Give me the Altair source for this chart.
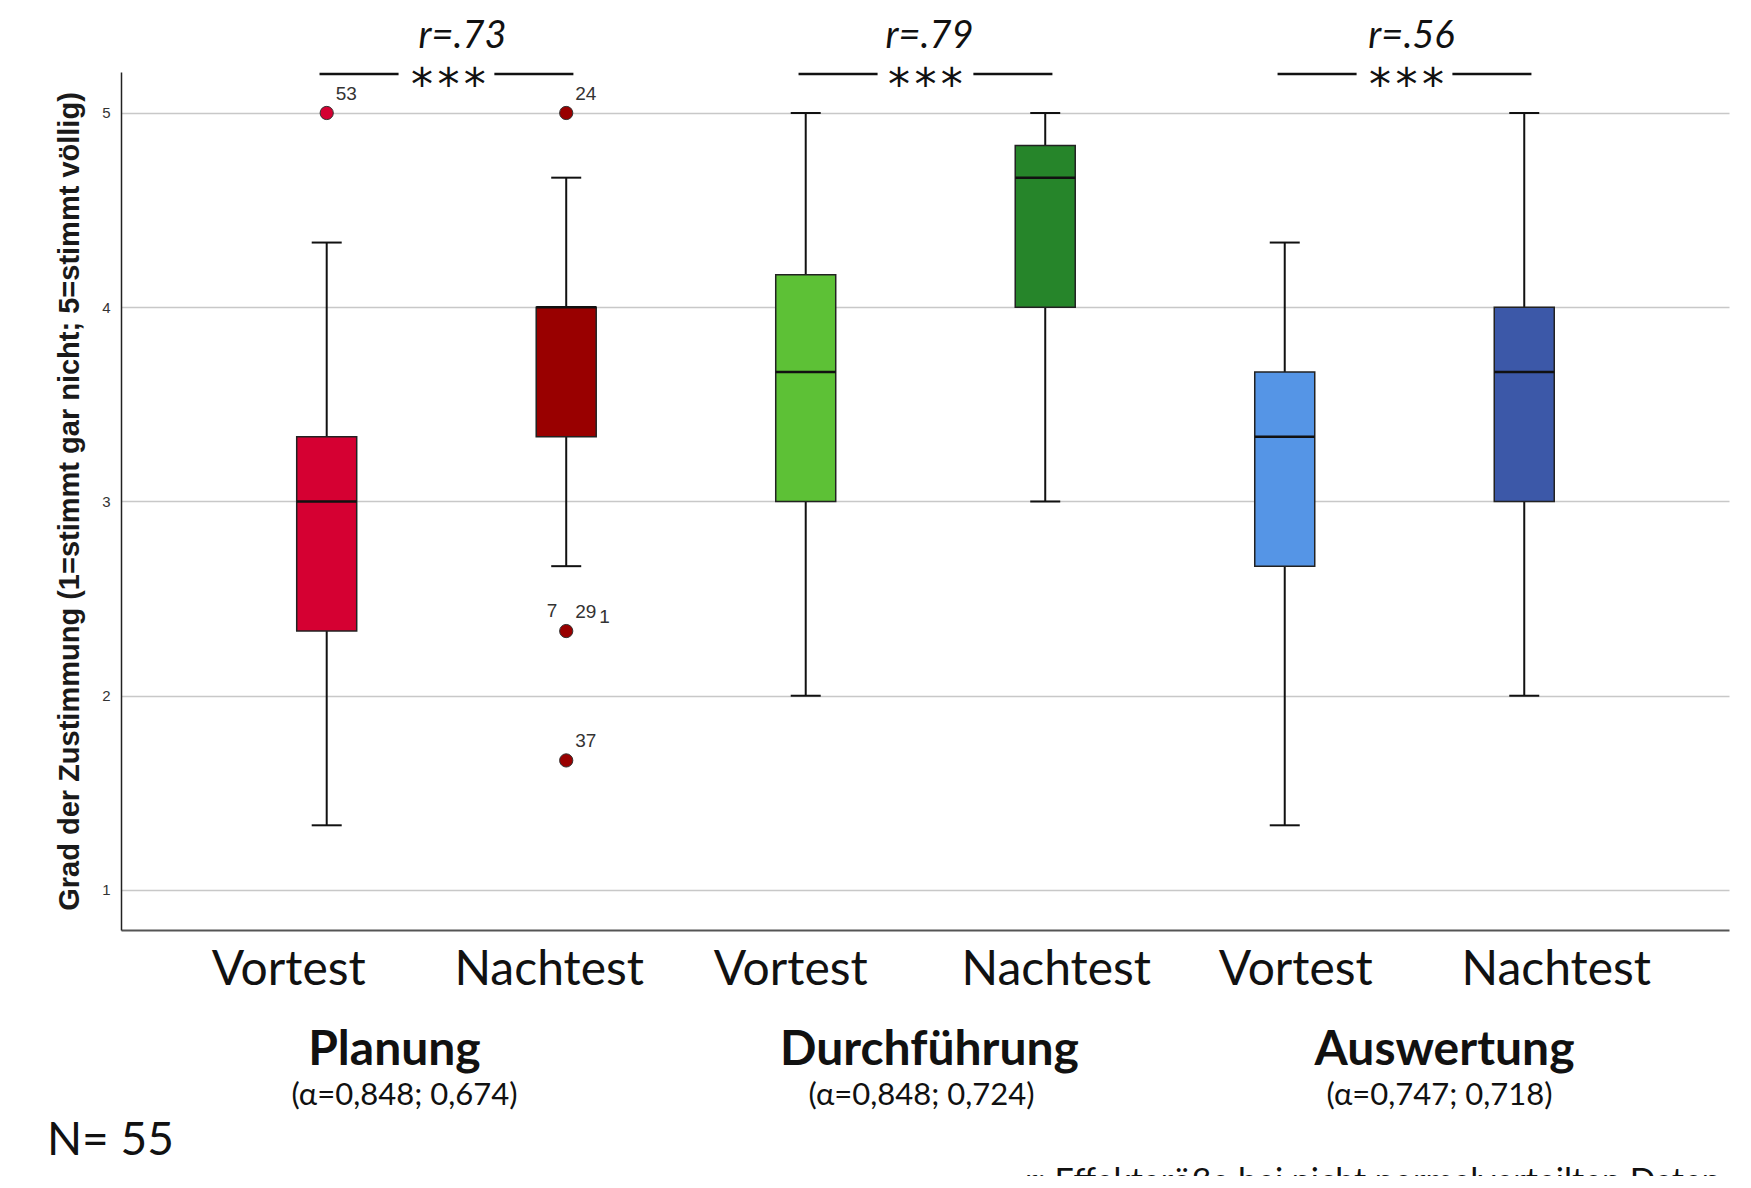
import altair as alt
import pandas as pd

# ---------------- data ----------------
groups = ["Planung", "Durchführung", "Auswertung"]
alphas = ["(α=0,848; 0,674)", "(α=0,848; 0,724)", "(α=0,747; 0,718)"]
effects = ["r=.73", "r=.79", "r=.56"]
stars = ["*\u200a*\u200a*", "*\u200a*\u200a*", "*\u200a*\u200a*"]
tests = ["Vortest", "Nachtest"]
colors = ["#D50032", "#990000", "#5DC136", "#26852A", "#5595E6", "#3C58A8"]

whisker_low = [1.333, 2.667, 2.0, 3.0, 1.333, 2.0]
q1 = [2.333, 3.333, 3.0, 4.0, 2.667, 3.0]
median = [3.0, 4.0, 3.667, 4.667, 3.333, 3.667]
q3 = [3.333, 4.0, 4.167, 4.833, 3.667, 4.0]
whisker_high = [4.333, 4.667, 5.0, 5.0, 4.333, 5.0]

outlier_box = [0, 1, 1, 1]
outlier_value = [5.0, 5.0, 2.333, 1.667]
outlier_label = ["53", "24", "29", "37"]
outlier_label_left = ["", "", "7", ""]
outlier_label_sub = ["", "", "1", ""]

y_ticks = [1, 2, 3, 4, 5]
y_title = "Grad der Zustimmung (1=stimmt gar nicht; 5=stimmt völlig)"
n_text = "N= 55"
footnote = "r: Effektgröße bei nicht normalverteilten Daten"

# ---------------- layout / style (pixel nudges of the slide's hand-placed texts) ----------------
test_dx = [-38, -17, -15, 11, 11, 32]
group_dx = [-52, 4, 40]
alpha_dx = [-42, -4, 35]
effect_dx = [16, 4, 7]
star_dx = [2, 0, 2]

# ---------------- tables ----------------
keys = [f"{g} {t}" for g in groups for t in tests]
boxes = pd.DataFrame({
    "key": keys,
    "test": [t for g in groups for t in tests],
    "pos": list(range(1, len(keys) + 1)),
    "low": whisker_low, "q1": q1, "median": median, "q3": q3, "high": whisker_high,
})
outl = pd.DataFrame({
    "key": [keys[i] for i in outlier_box],
    "pos": [i + 1 for i in outlier_box],
    "value": outlier_value,
    "label": outlier_label,
    "left": outlier_label_left,
    "sub": outlier_label_sub,
})
grp = pd.DataFrame({
    "group": groups, "alpha": alphas, "effect": effects, "stars": stars,
    "mid": [2 * i + 1.5 for i in range(len(groups))],
})
seg_frac = 0.30
seg_ext = 0.03
n_g = len(groups)
lines = pd.DataFrame({
    "x1": [2 * i + 1 - seg_ext for i in range(n_g)] + [2 * i + 2 - seg_frac for i in range(n_g)],
    "x2": [2 * i + 1 + seg_frac for i in range(n_g)] + [2 * i + 2 + seg_ext for i in range(n_g)],
})

FONT = "Lato"
INK = "#111111"
xscale = alt.Scale(domain=[0.162, 6.834], nice=False, zero=False)
x_axis = alt.Axis(labels=False, ticks=False, grid=False, title=None,
                  domainColor="#555555", domainWidth=2)
yscale = alt.Scale(domain=[0.794, 5.211], nice=False, zero=False)
y_axis = alt.Axis(values=y_ticks, format="d", grid=True, gridColor="#C8C8C8", gridWidth=1.5,
                  ticks=False, labelFontSize=15, labelColor="#333333",
                  labelFont="Liberation Sans", labelPadding=11,
                  domainColor="#222222", domainWidth=1.5, title=y_title,
                  titleFont="Liberation Sans", titleFontWeight="bold",
                  titleFontSize=29, titlePadding=17, titleColor="#1a1a1a")

X = alt.X("pos:Q", scale=xscale, axis=x_axis)
XM = alt.X("mid:Q", scale=xscale, axis=x_axis)
col = alt.Color("key:N", scale=alt.Scale(domain=keys, range=colors), legend=None)

base = alt.Chart(boxes)

whisk = base.mark_rule(color=INK, strokeWidth=2).encode(
    x=X, y=alt.Y("low:Q", scale=yscale, axis=y_axis), y2="high:Q")
cap_lo = base.mark_tick(orient="horizontal", size=30, thickness=2, color=INK,
                        opacity=1).encode(x=X, y=alt.Y("low:Q", scale=yscale))
cap_hi = base.mark_tick(orient="horizontal", size=30, thickness=2, color=INK,
                        opacity=1).encode(x=X, y=alt.Y("high:Q", scale=yscale))
box = base.mark_bar(size=60, stroke="#222222", strokeWidth=1.5, opacity=1).encode(
    x=X, y=alt.Y("q1:Q", scale=yscale), y2="q3:Q", color=col)
med = base.mark_tick(orient="horizontal", size=60, thickness=2.5, color=INK,
                     opacity=1).encode(x=X, y=alt.Y("median:Q", scale=yscale))

ob = alt.Chart(outl)
opts = ob.mark_circle(size=175, stroke="#333333", strokeWidth=1, opacity=1).encode(
    x=X, y=alt.Y("value:Q", scale=yscale), color=col)
olab = ob.mark_text(align="left", baseline="middle", dx=9, dy=-19, fontSize=19,
                    font="Liberation Sans", color="#333333").encode(
    x=X, y=alt.Y("value:Q", scale=yscale), text="label:N")
olab_l = ob.mark_text(align="right", baseline="middle", dx=-9, dy=-20, fontSize=19,
                      font="Liberation Sans", color="#333333").encode(
    x=X, y=alt.Y("value:Q", scale=yscale), text="left:N")
olab_s = ob.mark_text(align="left", baseline="middle", dx=33, dy=-14, fontSize=19,
                      font="Liberation Sans", color="#333333").encode(
    x=X, y=alt.Y("value:Q", scale=yscale), text="sub:N")

gb = alt.Chart(grp)
layers_txt = []
for i, g in enumerate(groups):
    sel = alt.datum.group == g
    layers_txt.append(gb.transform_filter(sel).mark_text(
        fontSize=38, font=FONT, fontStyle="italic", baseline="middle", color=INK,
        dx=effect_dx[i]).encode(x=XM, y=alt.value(-35), text="effect:N"))
    layers_txt.append(gb.transform_filter(sel).mark_text(
        fontSize=44, font="DejaVu Sans", baseline="middle", color=INK,
        dx=star_dx[i]).encode(x=XM, y=alt.value(15), text="stars:N"))
    layers_txt.append(gb.transform_filter(sel).mark_text(
        fontSize=48, font=FONT, fontWeight="bold", baseline="middle", color=INK,
        dx=group_dx[i]).encode(x=XM, y=alt.value(979), text="group:N"))
    layers_txt.append(gb.transform_filter(sel).mark_text(
        fontSize=31, font=FONT, baseline="middle", color=INK,
        dx=alpha_dx[i]).encode(x=XM, y=alt.value(1024), text="alpha:N"))
for i, k in enumerate(keys):
    layers_txt.append(base.transform_filter(alt.datum.key == k).mark_text(
        fontSize=48, font=FONT, baseline="middle", color=INK,
        dx=test_dx[i]).encode(x=X, y=alt.value(899), text="test:N"))

seg = alt.Chart(lines).mark_rule(color=INK, strokeWidth=2.5).encode(
    x=alt.X("x1:Q", scale=xscale, axis=x_axis), x2="x2:Q", y=alt.value(2))

ntxt = alt.Chart(pd.DataFrame({"t": [n_text]})).mark_text(
    fontSize=46, font=FONT, align="left", baseline="middle", color=INK).encode(
    x=alt.value(-74), y=alt.value(1069), text="t:N")
foot = alt.Chart(pd.DataFrame({"t": [footnote]})).mark_text(
    fontSize=34, font=FONT, align="left", baseline="top", color=INK).encode(
    x=alt.value(904), y=alt.value(1094), text="t:N")

chart = alt.layer(
    whisk, cap_lo, cap_hi, box, med, opts, olab, olab_l, olab_s,
    seg, *layers_txt, ntxt, foot
).properties(
    width=1608, height=858,
    autosize=alt.AutoSizeParams(type="none"),
    padding={"left": 113, "top": 64, "right": 12, "bottom": 246},
    background="white",
).configure_view(stroke=None)

chart.save("out.html", embed_options={"renderer": "svg", "actions": False})
